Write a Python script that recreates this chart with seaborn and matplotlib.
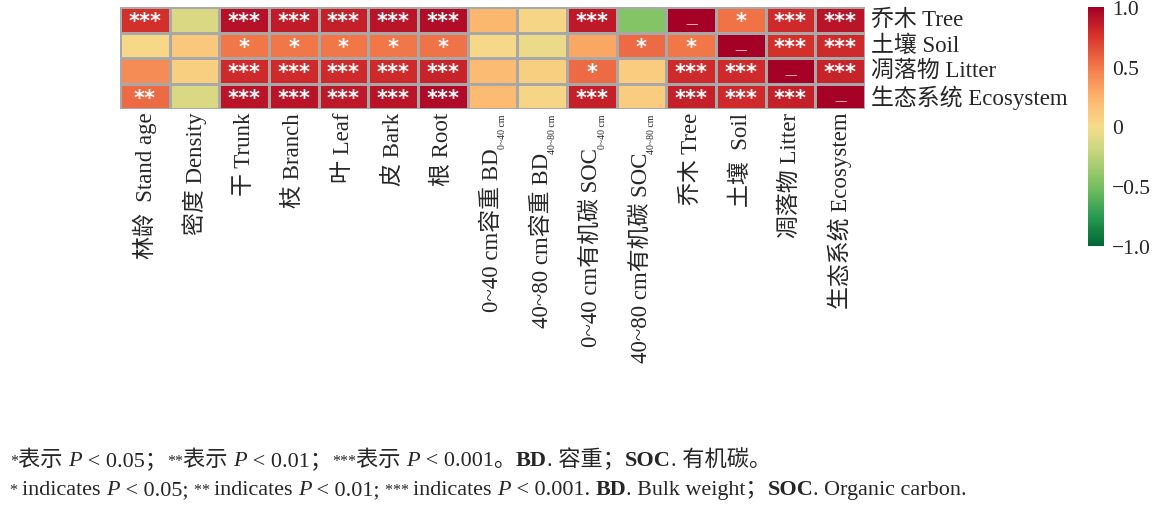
import numpy as np
import pandas as pd
import matplotlib
matplotlib.use("Agg")
import matplotlib.pyplot as plt
import seaborn as sns
from matplotlib.colors import LinearSegmentedColormap

# ---- data ----
row_labels = ["乔木 Tree", "土壤 Soil", "凋落物 Litter", "生态系统 Ecosystem"]

col_main = ["林龄  Stand age", "密度 Density", "干 Trunk", "枝 Branch", "叶 Leaf",
            "皮 Bark", "根 Root", "0~40 cm容重 BD", "40~80 cm容重 BD",
            "0~40 cm有机碳 SOC", "40~80 cm有机碳 SOC", "乔木 Tree", "土壤  Soil",
            "凋落物 Litter", "生态系统 Ecosystem"]
col_sub = ["", "", "", "", "", "", "", "0~40 cm", "40~80 cm",
           "0~40 cm", "40~80 cm", "", "", "", ""]

tree_r = [0.78, -0.12, 0.92, 0.87, 0.85, 0.90, 0.93, 0.22, 0.04, 0.88, -0.45, 1.0, 0.52, 0.80, 0.90]
soil_r = [0.03, 0.12, 0.50, 0.50, 0.50, 0.50, 0.52, 0.03, -0.05, 0.30, 0.55, 0.50, 1.0, 0.78, 0.80]
litter_r = [0.42, 0.08, 0.80, 0.80, 0.80, 0.80, 0.83, 0.20, 0.08, 0.55, 0.10, 0.80, 0.80, 1.0, 0.83]
eco_r = [0.55, -0.12, 0.90, 0.90, 0.88, 0.90, 0.95, 0.20, 0.04, 0.85, 0.10, 0.85, 0.80, 0.85, 1.0]

tree_sig = ["***", "", "***", "***", "***", "***", "***", "", "", "***", "", "—", "*", "***", "***"]
soil_sig = ["", "", "*", "*", "*", "*", "*", "", "", "", "*", "*", "—", "***", "***"]
litter_sig = ["", "", "***", "***", "***", "***", "***", "", "", "*", "", "***", "***", "—", "***"]
eco_sig = ["**", "", "***", "***", "***", "***", "***", "", "", "***", "", "***", "***", "***", "—"]

cbar_ticks = [-1.0, -0.5, 0.0, 0.5, 1.0]
cbar_ticklabels = ["−1.0", "−0.5", "0", "0.5", "1.0"]

note_cn = [("*", "s"), ("表示 ", "n"), ("P", "i"), (" < 0.05；", "n"),
           ("**", "s"), ("表示 ", "n"), ("P", "i"), (" < 0.01；", "n"),
           ("***", "s"), ("表示 ", "n"), ("P", "i"), (" < 0.001。", "n"),
           ("BD", "b"), (". 容重；", "n"), ("SOC", "b"), (". 有机碳。", "n")]
note_en = [("* ", "s"), ("indicates ", "n"), ("P", "i"), (" < 0.05; ", "n"),
           ("** ", "s"), ("indicates ", "n"), ("P", "i"), (" < 0.01; ", "n"),
           ("*** ", "s"), ("indicates ", "n"), ("P", "i"), (" < 0.001. ", "n"),
           ("BD", "b"), (". Bulk weight；", "n"), ("SOC", "b"), (". Organic carbon.", "n")]

# ---- style ----
sns.set_style("white")
plt.rcParams["font.family"] = ["Liberation Serif", "Noto Sans CJK SC"]
plt.rcParams["axes.unicode_minus"] = True

cmap = LinearSegmentedColormap.from_list("rygn", [
    (0.000, "#006837"),
    (0.125, "#2a9b52"),
    (0.250, "#78c061"),
    (0.400, "#c9d67f"),
    (0.500, "#f6dc8c"),
    (0.625, "#fdb36b"),
    (0.750, "#f2794a"),
    (0.875, "#d9352c"),
    (1.000, "#a50026"),
])

W, H, DPI = 1169, 510, 100
fig = plt.figure(figsize=(W / DPI, H / DPI), dpi=DPI)
ax = fig.add_axes([120 / W, 1 - 110 / H, 745 / W, 102 / H])
cax = fig.add_axes([1088 / W, 1 - 247 / H, 16 / W, 239 / H])

df = pd.DataFrame([tree_r, soil_r, litter_r, eco_r], index=row_labels, columns=col_main)
annot = np.array([tree_sig, soil_sig, litter_sig, eco_sig])

sns.heatmap(df, ax=ax, cbar_ax=cax, cmap=cmap, vmin=-1, vmax=1,
            annot=annot, fmt="",
            annot_kws=dict(color="white", fontsize=15, fontweight="bold",
                           fontfamily="DejaVu Sans"),
            linewidths=1, linecolor="#a8a8a8")

# diagonal dashes light and a bit low
for t in ax.texts:
    x, y = t.get_position()
    if t.get_text() == "—":
        t.set_color("#f2b3b3")
        t.set_fontsize(9)
        t.set_fontweight("normal")
        t.set_position((x, y + 0.15))
    else:
        t.set_position((x, y + 0.06))

# row labels on the right
ax.yaxis.tick_right()
ax.set_yticklabels(row_labels, rotation=0, fontsize=16.5, va="center")
ax.tick_params(axis="y", length=0, pad=4)
ax.set_ylabel("")

# column labels
base_pad = 2.0
ax.set_xticklabels(col_main, rotation=90, fontsize=16.5, ha="center", va="top")
ax.tick_params(axis="x", length=0, pad=base_pad)
ax.set_xlabel("")

fig.canvas.draw()
renderer = fig.canvas.get_renderer()
ticks = ax.xaxis.get_major_ticks()
for i, sub in enumerate(col_sub):
    if not sub:
        continue
    st = ax.annotate(sub, xy=(i + 0.5, 0), xycoords=ax.get_xaxis_transform(),
                     xytext=(7.5, -base_pad - 1), textcoords="offset points",
                     rotation=90, ha="center", va="top", fontsize=7)
    h_pts = st.get_window_extent(renderer).height * 72 / DPI
    ticks[i].set_pad(base_pad + h_pts + 0.5)

# colorbar
cbar = ax.collections[0].colorbar
cbar.outline.set_visible(False)
cax.set_yticks(cbar_ticks)
cax.set_yticklabels(cbar_ticklabels, fontsize=15.5)
cax.tick_params(length=0, pad=6)


# footnotes with mixed styles
def text_width(s, kw):
    a = fig.text(0, 0, s + "|", **kw)
    b = fig.text(0, 0, "|", **kw)
    w = a.get_window_extent(renderer).width - b.get_window_extent(renderer).width
    a.remove()
    b.remove()
    return w


def draw_note(runs, x0, y_base, size):
    x = x0
    for s, style in runs:
        kw = dict(fontsize=size)
        if style == "i":
            kw["fontstyle"] = "italic"
        elif style == "b":
            kw["fontweight"] = "bold"
        elif style == "s":
            kw["fontsize"] = size * 0.72
        fig.text(x / W, 1 - y_base / H, s, ha="left", va="baseline", **kw)
        x += text_width(s, kw)


draw_note(note_cn, 10, 466, 16)
draw_note(note_en, 10, 495, 15.9)

fig.savefig("out.png", dpi=DPI)
plt.close(fig)
